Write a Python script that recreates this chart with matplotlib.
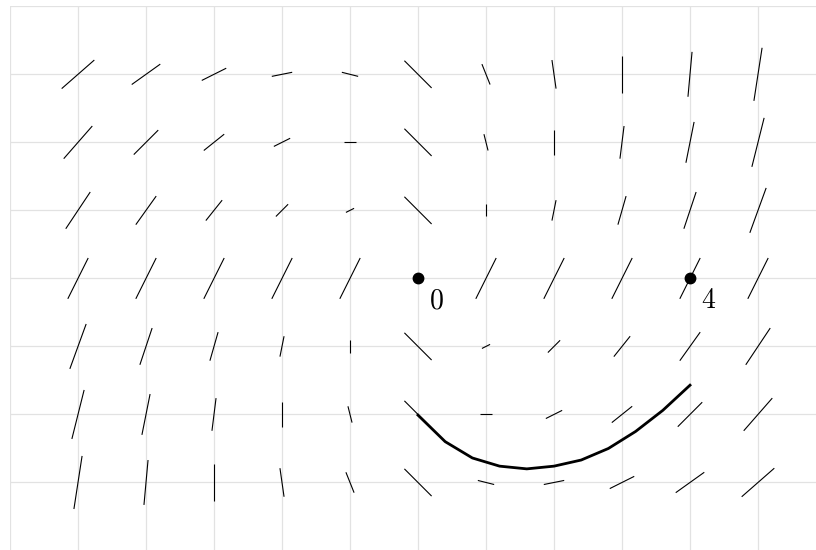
import numpy as np
import matplotlib
matplotlib.use("Agg")
import matplotlib.pyplot as plt

plt.rcParams['mathtext.fontset'] = 'cm'

# grid of sample points
xs = [-5, -4, -3, -2, -1, 0, 1, 2, 3, 4, 5]
ys = [3, 2, 1, 0, -1, -2, -3]

# direction components at each sample point (one row per y value, top to bottom)
U = [
    [8, 7, 6, 5, 4, 6.67, 2, 1, 0, -1, -2],
    [7, 6, 5, 4, 3, 6.67, 1, 0, -1, -2, -3],
    [6, 5, 4, 3, 2, 6.67, 0, -1, -2, -3, -4],
    [5, 5, 5, 5, 5, 0, -5, -5, -5, -5, -5],
    [4, 3, 2, 1, 0, -6.67, -2, -3, -4, -5, -6],
    [3, 2, 1, 0, -1, -6.67, -3, -4, -5, -6, -7],
    [2, 1, 0, -1, -2, -6.67, -4, -5, -6, -7, -8],
]
V = [
    [7, 5, 3, 1, -1, -6.67, -5, -7, -9, -11, -13],
    [8, 6, 4, 2, 0, -6.67, -4, -6, -8, -10, -12],
    [9, 7, 5, 3, 1, -6.67, -3, -5, -7, -9, -11],
    [10, 10, 10, 10, 10, 0, -10, -10, -10, -10, -10],
    [11, 9, 7, 5, 3, 6.67, -1, -3, -5, -7, -9],
    [12, 10, 8, 6, 4, 6.67, 0, -2, -4, -6, -8],
    [13, 11, 9, 7, 5, 6.67, 1, -1, -3, -5, -7],
]

# solution curve
curve_x = [0, 0.4, 0.8, 1.2, 1.6, 2.0, 2.4, 2.8, 3.2, 3.6, 4.0]
curve_y = [-2.01, -2.40, -2.64, -2.76, -2.80, -2.76, -2.67, -2.50, -2.25, -1.94, -1.57]

# marked points and their labels
pts_x = [0, 4]
pts_y = [0, 0]
pts_labels = ['0', '4']

scale = 0.06

fig = plt.figure(figsize=(8.16, 5.5), dpi=100)
ax = fig.add_axes([10 / 816, -0.5 / 550, 806 / 816, 544.2 / 550])
ax.set_xlim(-6, -6 + 806 / 68)
ax.set_ylim(-4, 4)
ax.set_xticks(range(-6, 6))
ax.set_yticks(range(-4, 5))
ax.grid(True, color='#e2e2e2', linewidth=0.9)
ax.tick_params(length=0, labelbottom=False, labelleft=False)
for s in ax.spines.values():
    s.set_visible(False)
ax.set_axisbelow(True)

for i, y in enumerate(ys):
    for j, x in enumerate(xs):
        u, v = U[i][j], V[i][j]
        if u == 0 and v == 0:
            continue
        hx, hy = 0.5 * scale * u, 0.5 * scale * v
        ax.plot([x - hx, x + hx], [y - hy, y + hy], color='black', linewidth=0.8,
                solid_capstyle='butt')

ax.plot(curve_x, curve_y, color='black', linewidth=2.0)

ax.plot(pts_x, pts_y, 'o', color='black', markersize=7.5)
for x, y, lab in zip(pts_x, pts_y, pts_labels):
    ax.text(x + 0.27, y - 0.32, '$' + lab + '$', fontsize=20, ha='center', va='center')

fig.savefig('out.png', dpi=100)
